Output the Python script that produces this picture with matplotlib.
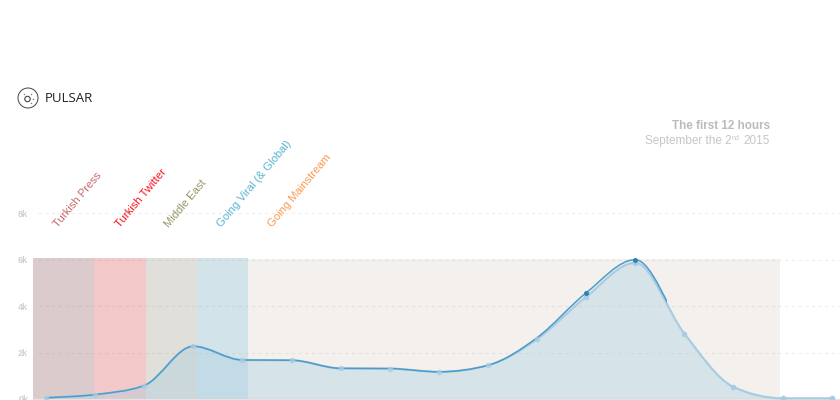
import matplotlib
matplotlib.use('Agg')
from matplotlib import pyplot as plt
from matplotlib.path import Path
from matplotlib.patches import PathPatch, Circle, Rectangle
import numpy as np

plt.rcParams['font.family'] = ['Liberation Sans', 'DejaVu Sans']

hours = list(range(17))
tweets = [0.05, 0.19, 0.58, 2.27, 1.68, 1.67, 1.32, 1.31, 1.17, 1.45, 2.64, 4.57, 6.0, 2.82, 0.52, 0.03, 0.03]
retweets = [0.05, 0.19, 0.58, 2.27, 1.68, 1.67, 1.32, 1.31, 1.17, 1.45, 2.58, 4.40, 5.87, 2.82, 0.52, 0.03, 0.03]
y_ticks = [0, 2, 4, 6, 8]
y_labels = ['0k', '2k', '4k', '6k', '8k']
x_ticks = [-0.25, 0.75, 1.75, 2.75, 3.75, 4.75, 5.75, 6.75, 7.75, 8.75, 9.75, 10.75, 11.75, 12.75, 13.75, 14.75, 15.75]

phases = ['Turkish Press', 'Turkish Twitter', 'Middle East', 'Going Viral (& Global)', 'Going Mainstream']
phase_starts = [-0.265, 0.98, 2.03, 3.07, 4.12]
phase_ends = [0.98, 2.03, 3.07, 4.12, 14.95]
phase_tops = [6.07, 6.07, 6.07, 6.07, 6.02]
phase_fills = ['#dccbcc', '#f3c8c9', '#e1dfd9', '#d3e3ea', '#f3f0ed']
phase_colors = ['#c9676d', '#f8141c', '#9a9468', '#5ab4d2', '#fb9a50']
label_hours = [0.28, 1.53, 2.53, 3.61, 4.65]

W, H = 840, 400
PX_PER_HOUR = 49.1


def monotone_path(xs, ys):
    # same kind of curve as d3 monotoneX, as bezier segments
    xs = np.array(xs, dtype=float)
    ys = np.array(ys, dtype=float)
    h = np.diff(xs)
    s = np.diff(ys) / h
    m = np.zeros(len(xs))
    m[0] = s[0]
    m[-1] = s[-1]
    for i in range(1, len(xs) - 1):
        if s[i - 1] * s[i] > 0:
            m[i] = (np.sign(s[i - 1]) + np.sign(s[i])) * min(abs(s[i - 1]), abs(s[i]), 0.25 * abs(s[i - 1] + s[i]))
    verts = [(xs[0], ys[0])]
    codes = [Path.MOVETO]
    for i in range(len(xs) - 1):
        verts.append((xs[i] + h[i] / 3, ys[i] + m[i] * h[i] / 3))
        verts.append((xs[i + 1] - h[i] / 3, ys[i + 1] - m[i + 1] * h[i] / 3))
        verts.append((xs[i + 1], ys[i + 1]))
        codes += [Path.CURVE4, Path.CURVE4, Path.CURVE4]
    return verts, codes


fig = plt.figure(figsize=(W / 100, H / 100), dpi=100)
ax = fig.add_axes([33 / W, 1 / H, (W - 33) / W, (399 - 213.3) / H])
ax.set_xlim(-13 / PX_PER_HOUR, (W - 46) / PX_PER_HOUR)
ax.set_ylim(0, 8)
ax.patch.set_alpha(0)
for s in ax.spines.values():
    s.set_visible(False)
ax.set_yticks(y_ticks, y_labels)
ax.set_xticks(x_ticks, [''] * len(x_ticks))
ax.tick_params(axis='x', length=1, width=0.7, color='#cccccc')
ax.tick_params(axis='y', length=0, pad=3.5, labelsize=6.5, labelcolor='#d0d0d0')
for lab in ax.get_yticklabels():
    lab.set_fontweight('bold')
for t in y_ticks:
    ax.plot([-0.16, 16.3], [t, t], color='#777777', alpha=0.12, lw=0.8, ls=(0, (3, 3)), zorder=2, clip_on=False)
ax.plot([-0.27, 16.3], [0, 0], color='#e4e4e4', lw=1.0, zorder=2, clip_on=False)

for a, b, t, c in zip(phase_starts, phase_ends, phase_tops, phase_fills):
    ax.axvspan(a, b, ymin=0, ymax=t / 8, color=c, lw=0, zorder=1)

# area under the curve
verts, codes = monotone_path(hours, retweets)
area_verts = verts + [(hours[-1], 0), (hours[0], 0), (hours[0], 0)]
area_codes = codes + [Path.LINETO, Path.LINETO, Path.CLOSEPOLY]
ax.add_patch(PathPatch(Path(area_verts, area_codes), fc='#a9cfe0', ec='none', alpha=0.38, zorder=3))

# light line goes over the whole day, dark one stops after the peak
ax.add_patch(PathPatch(Path(verts, codes), fc='none', ec='#a8cde2', lw=1.6, zorder=4, clip_on=False))

verts2, codes2 = monotone_path(hours[:14], tweets[:14])
dark = PathPatch(Path(verts2, codes2), fc='none', ec='#4d9bc9', lw=1.1, zorder=5)
ax.add_patch(dark)
dark.set_clip_path(Rectangle((-1, 0), 13.65, 8, transform=ax.transData))

ax.plot(hours[:11], retweets[:11], 'o', color='#a8cde2', ms=4, mew=0, alpha=0.8, zorder=6, clip_on=False)
ax.plot(hours[11:], retweets[11:], 'o', color='#a8cde2', ms=4, mew=0, zorder=4.5, clip_on=False)
ax.plot(hours[11:13], tweets[11:13], 'o', color='#2f80b5', ms=3.6, mew=0, zorder=6, clip_on=False)

for name, x, c in zip(phases, label_hours, phase_colors):
    ax.text(x, 7.31, name, color=c, fontsize=8.1, rotation=50, rotation_mode='anchor',
            ha='left', va='bottom', clip_on=False)

fig.text(770 / W, 1 - 126.5 / H, 'The first 12 hours', color='#bbbbbb', fontsize=8.4, fontweight='bold', ha='right', va='center')
fig.text(769.5 / W, 1 - 141 / H, '2015', color='#c6c6c6', fontsize=8.5, ha='right', va='center')
fig.text(739.5 / W, 1 - 138.5 / H, 'nd', color='#c6c6c6', fontsize=5.2, ha='right', va='center')
fig.text(731.5 / W, 1 - 141 / H, 'September the 2', color='#c6c6c6', fontsize=8.5, ha='right', va='center')

# logo
logo = fig.add_axes([0, 0, 1, 1])
logo.set_xlim(0, W)
logo.set_ylim(H, 0)
logo.axis('off')
logo.add_patch(Circle((28, 98), 10, fc='none', ec='#444444', lw=0.7))
logo.add_patch(Circle((27.5, 99), 2.7, fc='none', ec='#444444', lw=0.8))
logo.plot([24, 31, 33, 31], [94, 94, 99, 103], 'o', color='#777777', ms=1, mew=0)
logo.text(44.5, 98.5, 'PULSAR', color='#222222', fontsize=9.5, family='Open Sans', va='center', ha='left')

fig.savefig('out.png', dpi=100)
